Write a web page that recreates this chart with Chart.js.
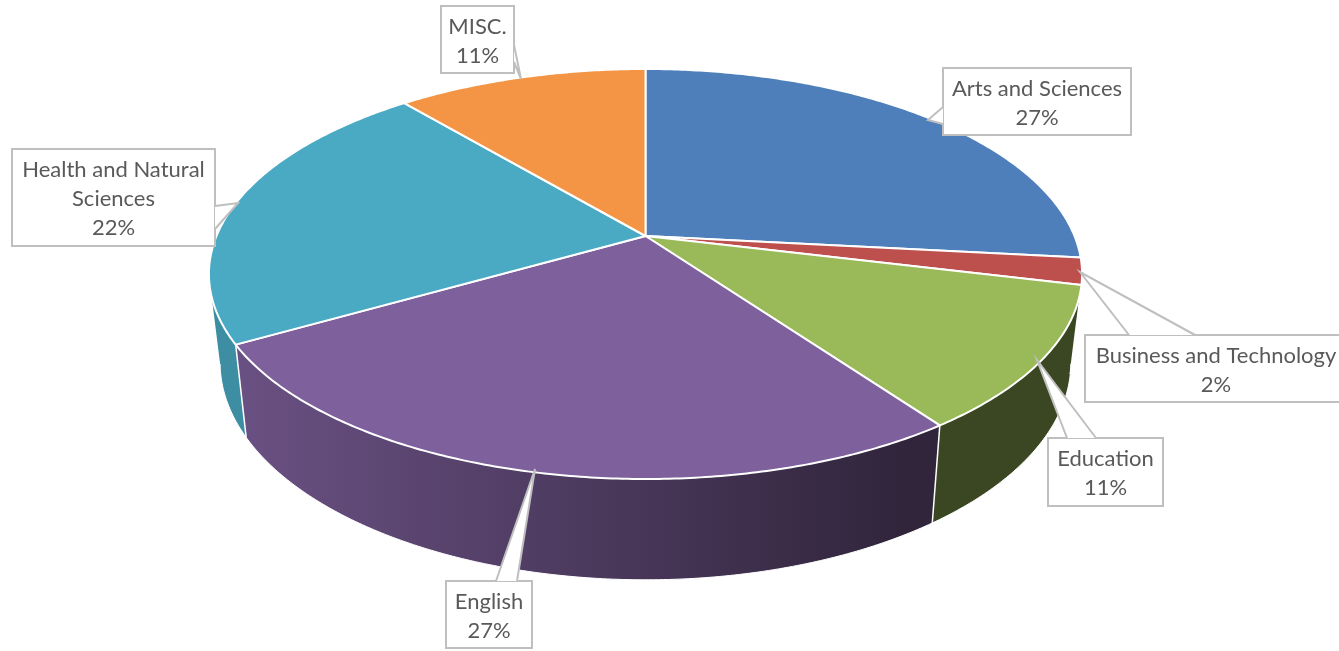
<!DOCTYPE html>
<html>
<head>
<meta charset="utf-8">
<title>Pie</title>
<script src="https://cdn.jsdelivr.net/npm/chart.js@4/dist/chart.umd.min.js"></script>
<style>
html,body{margin:0;padding:0;background:#fff;overflow:hidden}
canvas{display:block}
</style>
</head>
<body>
<canvas id="pieChart" width="1339" height="651"></canvas>
<script>
const categories = ['Arts and Sciences','Business and Technology','Education','English','Health and Natural Sciences','MISC.'];
const shares = [26.7,2.1,11.3,26.6,22.2,11.1];
const sliceColors = ['#4e7fba','#bd4f4c','#9ab958','#7e609d','#4aaac4','#f39545'];

// label box layout, one per category: box, tail of the callout, text lines
const callouts = [
  {box:[943,68,1131,135],tail:[[943,107],[928,120],[943,124]],lines:['Arts and Sciences']},
  {box:[1085,335,1347,402],tail:[[1129,335],[1080,272],[1195,335]],lines:['Business and Technology']},
  {box:[1048,438,1163,506],tail:[[1067,438],[1037,360],[1096,438]],lines:['Education']},
  {box:[446,581,532,648],tail:[[496,581],[535,469],[517,581]],lines:['English']},
  {box:[12,149,215,246],tail:[[215,206],[238,203],[215,229]],lines:['Health and Natural','Sciences']},
  {box:[441,6,514,73],tail:[[514,45],[521,79],[514,62]],lines:['MISC.']}
];

// perspective of the disc: apex is not in the middle of the ellipse
const cx = 645.5, tilt = -0.1854;
const topRim = {a:429, b:154.2, c:236};
const lowRim = {a:418, b:150, c:322.3};
const silhouette = 0.185; // sin(angle) where the wall leaves the top ellipse

function project(rim,angle)
{
  const x = Math.cos(angle), y = Math.sin(angle);
  const d = 1+tilt*y;
  return [cx+rim.a*x/d,(rim.b*y+rim.c)/d];
}

function shade(hex,f)
{
  const n = parseInt(hex.slice(1),16);
  const r = Math.round((n>>16&255)*f), g = Math.round((n>>8&255)*f), b = Math.round((n&255)*f);
  return 'rgb('+r+','+g+','+b+')';
}

function anglesBetween(start,end)
{
  const list = [];
  const steps = Math.max(2,Math.ceil((end-start)/0.01));
  for(let i=0;i<=steps;i++)
  {
    list.push(start+(end-start)*i/steps);
  }
  return list;
}

function trace(ctx,pts)
{
  pts.forEach(function(p,i){
    if(i==0) ctx.moveTo(p[0],p[1]);
    else ctx.lineTo(p[0],p[1]);
  });
}

const pie3d = {
  id:'pie3d',
  beforeDatasetsDraw(chart)
  {
    const ctx = chart.ctx;
    const arcs = chart.getDatasetMeta(0).data;
    ctx.save();
    ctx.lineJoin = 'round';

    // side wall, only the part in front of the silhouette
    arcs.forEach(function(arc,i){
      const p = arc.getProps(['startAngle','endAngle'],true);
      const front = anglesBetween(p.startAngle,p.endAngle).filter(function(a){return Math.sin(a)>silhouette;});
      if(front.length<2) return;
      const up = front.map(function(a){return project(topRim,a);});
      const low = front.map(function(a){return project(lowRim,a);});
      const g = ctx.createLinearGradient(245,0,900,0);
      g.addColorStop(0,shade(sliceColors[i],0.83));
      g.addColorStop(1,shade(sliceColors[i],0.385));
      ctx.beginPath();
      trace(ctx,up.concat(low.slice().reverse()));
      ctx.closePath();
      ctx.fillStyle = g;
      ctx.fill();
    });

    // white edges of the wall
    ctx.strokeStyle = '#ffffff';
    arcs.forEach(function(arc){
      const p = arc.getProps(['startAngle','endAngle'],true);
      const front = anglesBetween(p.startAngle,p.endAngle).filter(function(a){return Math.sin(a)>silhouette;});
      if(front.length<2) return;
      ctx.lineWidth = 1;
      ctx.beginPath();
      trace(ctx,front.map(function(a){return project(lowRim,a);}));
      ctx.stroke();
      if(Math.sin(p.startAngle)>silhouette)
      {
        ctx.lineWidth = 1.5;
        ctx.beginPath();
        trace(ctx,[project(topRim,p.startAngle),project(lowRim,p.startAngle)]);
        ctx.stroke();
      }
    });

    // top face
    arcs.forEach(function(arc,i){
      const p = arc.getProps(['startAngle','endAngle'],true);
      const rim = anglesBetween(p.startAngle,p.endAngle).map(function(a){return project(topRim,a);});
      ctx.beginPath();
      trace(ctx,[[cx,topRim.c]].concat(rim));
      ctx.closePath();
      ctx.fillStyle = sliceColors[i];
      ctx.fill();
      ctx.strokeStyle = '#ffffff';
      ctx.lineWidth = 2;
      ctx.stroke();
    });
    ctx.restore();
    return false;
  },
  afterDraw(chart)
  {
    const ctx = chart.ctx;
    const total = shares.reduce(function(a,b){return a+b;},0);
    ctx.save();
    ctx.font = '22px Lato';
    ctx.textAlign = 'center';
    callouts.forEach(function(c,i){
      const b = c.box;
      ctx.beginPath();
      ctx.rect(b[0],b[1],b[2]-b[0],b[3]-b[1]);
      ctx.fillStyle = '#ffffff';
      ctx.fill();
      ctx.strokeStyle = '#bfbfbf';
      ctx.lineWidth = 2;
      ctx.stroke();
      // tail, white inside so the seam with the box disappears
      ctx.beginPath();
      trace(ctx,c.tail);
      ctx.closePath();
      ctx.fill();
      ctx.beginPath();
      trace(ctx,c.tail);
      ctx.stroke();

      const mid = (b[0]+b[2])/2;
      const lines = c.lines.concat([Math.round(shares[i]/total*100)+'%']);
      ctx.fillStyle = '#595959';
      lines.forEach(function(t,j){
        ctx.fillText(t,mid,b[1]+28+j*29);
      });
    });
    ctx.restore();
  }
};

new Chart('pieChart',{
  type:'pie',
  data:{
    labels:categories,
    datasets:[{data:shares,backgroundColor:sliceColors,borderColor:'#ffffff',borderWidth:2}]
  },
  options:{
    responsive:false,
    animation:false,
    plugins:{legend:{display:false},tooltip:{enabled:false}}
  },
  plugins:[pie3d]
});
</script>
</body>
</html>
